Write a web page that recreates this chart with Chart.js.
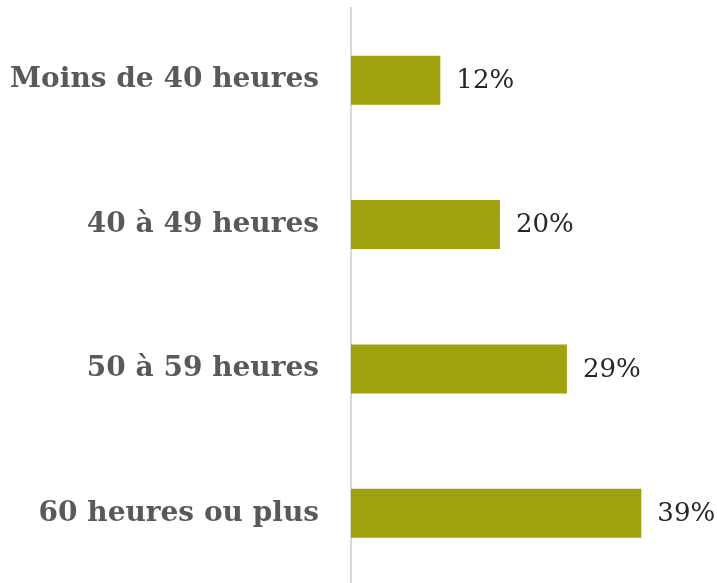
<!DOCTYPE html>
<html>
<head>
<meta charset="utf-8">
<script src="https://cdn.jsdelivr.net/npm/chart.js@4.4.1/dist/chart.umd.min.js"></script>
<style>
  html, body { margin: 0; padding: 0; background: #ffffff; }
  #c { display: block; }
</style>
</head>
<body>
<canvas id="c" width="717" height="583"></canvas>
<script>
const categories = ['Moins de 40 heures', '40 à 49 heures', '50 à 59 heures', '60 heures ou plus'];
const values = [12, 20, 29, 39];
const valueSuffix = '%';

const valueLabels = {
  id: 'valueLabels',
  afterDatasetsDraw(chart) {
    const ctx = chart.ctx;
    const meta = chart.getDatasetMeta(0);
    ctx.save();
    ctx.font = '26px "DejaVu Serif"';
    ctx.fillStyle = '#262626';
    ctx.textAlign = 'left';
    ctx.textBaseline = 'middle';
    meta.data.forEach((bar, i) => {
      ctx.fillText(values[i] + valueSuffix, bar.x + 16, bar.y + 1);
    });
    ctx.restore();
  }
};

// lets the category band run slightly past the bottom edge, as in the reference
const extendArea = {
  id: 'extendArea',
  afterLayout(chart) {
    const extra = 2.5;
    const y = chart.scales.y;
    y.bottom += extra;
    y.height = y.bottom - y.top;
    y.configure();
    chart.chartArea.bottom += extra;
    chart.chartArea.height = chart.chartArea.bottom - chart.chartArea.top;
  }
};

new Chart(document.getElementById('c'), {
  type: 'bar',
  data: {
    labels: categories,
    datasets: [{
      data: values,
      backgroundColor: '#a0a10c',
      borderWidth: 0,
      categoryPercentage: 1,
      barPercentage: 0.34
    }]
  },
  options: {
    indexAxis: 'y',
    responsive: false,
    devicePixelRatio: 1,
    animation: false,
    layout: { padding: { top: 8, bottom: 0, left: 0, right: 31 } },
    plugins: { legend: { display: false }, tooltip: { enabled: false } },
    scales: {
      x: { display: false, min: 0, max: 45 },
      y: {
        afterFit(scale) {
          scale.width = 351;
          scale.paddingTop = 0;
          scale.paddingBottom = 0;
        },
        grid: { display: false, drawTicks: false },
        border: { display: true, color: '#d9d9d9', width: 2 },
        ticks: {
          padding: 32,
          color: '#595959',
          font: { family: 'DejaVu Serif', weight: 'bold', size: 28 }
        }
      }
    }
  },
  plugins: [extendArea, valueLabels]
});
</script>
</body>
</html>
